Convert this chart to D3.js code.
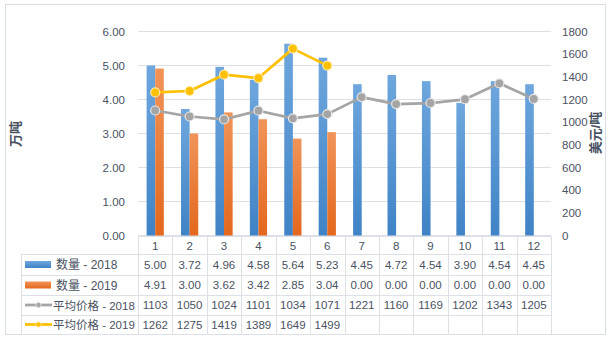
<!DOCTYPE html>
<html><head><meta charset="utf-8">
<script src="https://cdn.jsdelivr.net/npm/d3@7"></script>
<style>
body{margin:0;background:#fff;}
svg{display:block;font-family:"Liberation Sans","DejaVu Sans",sans-serif;}
.cjk{font-family:"Liberation Sans","Noto Sans CJK SC",sans-serif;}
</style></head>
<body><svg id="c" width="609" height="340"></svg>
<script>
const months = ["1","2","3","4","5","6","7","8","9","10","11","12"];
const qty2018 = [5.00,3.72,4.96,4.58,5.64,5.23,4.45,4.72,4.54,3.90,4.54,4.45];
const qty2019 = [4.91,3.00,3.62,3.42,2.85,3.04,0,0,0,0,0,0];
const price2018 = [1103,1050,1024,1101,1034,1071,1221,1160,1169,1202,1343,1205];
const price2019 = [1262,1275,1419,1389,1649,1499];
const leftTicks = [0,1,2,3,4,5,6];
const rightTicks = [0,200,400,600,800,1000,1200,1400,1600,1800];
const seriesNames = ["数量 - 2018","数量 - 2019","平均价格 - 2018","平均价格 - 2019"];

const svg = d3.select("#c");
const txt = "#4a5262", grid = "#dde1e7";
const L = 138, R = 551, T = 31.5, B = 235.5;

const defs = svg.append("defs");
function grad(id, top, bot){
  const g = defs.append("linearGradient").attr("id",id).attr("x1",0).attr("y1",0).attr("x2",0).attr("y2",1);
  g.append("stop").attr("offset","0%").attr("stop-color",top);
  g.append("stop").attr("offset","100%").attr("stop-color",bot);
}
grad("gb","#6fa7de","#3f83c6");
grad("go","#f19459","#e4671c");

// outer border
svg.append("rect").attr("x",5.5).attr("y",4.5).attr("width",600).attr("height",330)
  .attr("fill","none").attr("stroke","#d9dee5");

const x = d3.scaleBand().domain(months).range([L,R]).paddingInner(0).paddingOuter(0);
const bw = x.bandwidth()/4;
const yL = d3.scaleLinear().domain([0,6]).range([B,T]);
const yR = d3.scaleLinear().domain([0,1800]).range([B,T]);

// gridlines
svg.append("g").selectAll("line").data(leftTicks).join("line")
  .attr("x1",L).attr("x2",R).attr("y1",d=>yL(d)).attr("y2",d=>yL(d))
  .attr("stroke",grid).attr("stroke-width",1);

// axes
const ga = svg.append("g").attr("transform",`translate(${L-13},0)`)
  .call(d3.axisLeft(yL).tickValues(leftTicks).tickFormat(d3.format(".2f")).tickSize(0).tickPadding(0));
ga.select(".domain").remove();
ga.selectAll("text").attr("fill",txt).style("font-size","11.5px").style("font-family","Liberation Sans,sans-serif");
const gr = svg.append("g").attr("transform",`translate(${R+11},0)`)
  .call(d3.axisRight(yR).tickValues(rightTicks).tickFormat(d3.format("d")).tickSize(0).tickPadding(0));
gr.select(".domain").remove();
gr.selectAll("text").attr("fill",txt).style("font-size","11.5px").style("font-family","Liberation Sans,sans-serif");

// axis titles
svg.append("text").attr("class","cjk").attr("transform","translate(20,134) rotate(-90)")
  .attr("text-anchor","middle").attr("fill",txt).attr("font-size","13px").attr("font-weight","bold").text("万吨");
svg.append("text").attr("class","cjk").attr("transform","translate(600,133) rotate(-90)")
  .attr("text-anchor","middle").attr("fill",txt).attr("font-size","13px").attr("font-weight","bold").text("美元/吨");

// bars
const cx = i => x(months[i]) + x.bandwidth()/2;
svg.append("g").selectAll("rect").data(qty2018).join("rect")
  .attr("x",(d,i)=>cx(i)-bw).attr("width",bw).attr("y",d=>yL(d)).attr("height",d=>B-yL(d))
  .attr("fill","url(#gb)");
svg.append("g").selectAll("rect").data(qty2019).join("rect")
  .attr("x",(d,i)=>cx(i)).attr("width",bw).attr("y",d=>yL(d)).attr("height",d=>B-yL(d))
  .attr("fill","url(#go)");

// lines
function drawLine(vals, color, mk){
  const line = d3.line().x((d,i)=>cx(i)).y(d=>yR(d));
  svg.append("path").datum(vals).attr("d",line).attr("fill","none")
    .attr("stroke",color).attr("stroke-width",2.75).attr("stroke-linejoin","round");
  svg.append("g").selectAll("circle").data(vals).join("circle")
    .attr("cx",(d,i)=>cx(i)).attr("cy",d=>yR(d)).attr("r",4.5)
    .attr("fill",color).attr("stroke",mk).attr("stroke-width",1.2);
}
drawLine(price2018,"#a5a5a5","#e6e6e6");
drawLine(price2019,"#ffc000","#ffe9a8");

// data table
const rowY = [236,254,275,295,315,334];
const tL = 21;
const tg = svg.append("g").attr("stroke",grid).attr("stroke-width",1).attr("fill","none");
tg.append("line").attr("x1",L).attr("x2",R).attr("y1",rowY[0]+0.5).attr("y2",rowY[0]+0.5);
for(let k=1;k<rowY.length;k++){
  tg.append("line").attr("x1",tL).attr("x2",R).attr("y1",rowY[k]+0.5).attr("y2",rowY[k]+0.5);
}
tg.append("line").attr("x1",tL+0.5).attr("x2",tL+0.5).attr("y1",rowY[1]).attr("y2",rowY[5]);
months.forEach((m,i)=>{
  const xx = Math.round(x(m))+0.5;
  tg.append("line").attr("x1",xx).attr("x2",xx).attr("y1",rowY[0]).attr("y2",rowY[5]);
});
tg.append("line").attr("x1",R+0.5).attr("x2",R+0.5).attr("y1",rowY[0]).attr("y2",rowY[5]);

const tt = svg.append("g").attr("fill",txt).attr("font-size","11.5px").attr("text-anchor","middle");
const mid = k => (rowY[k]+rowY[k+1])/2 + 4;
months.forEach((m,i)=>{
  tt.append("text").attr("x",cx(i)).attr("y",mid(0)+1).text(m);
});
const rows = [qty2018.map(d=>d.toFixed(2)), qty2019.map(d=>d.toFixed(2)), price2018.map(String), price2019.map(String)];
rows.forEach((r,k)=>{
  r.forEach((v,i)=>{
    tt.append("text").attr("x",cx(i)).attr("y",mid(k+1)).text(v);
  });
});

// legend keys in table
const keyColors = ["url(#gb)","url(#go)","#a5a5a5","#ffc000"];
seriesNames.forEach((s,k)=>{
  const ym = (rowY[k+1]+rowY[k+2])/2;
  if(k<2){
    svg.append("rect").attr("x",25).attr("y",ym-3.5).attr("width",26).attr("height",7).attr("fill",keyColors[k]);
    svg.append("text").attr("class","cjk").attr("x",56).attr("y",ym+4.5).attr("fill",txt).attr("font-size","12px").text(s);
  } else {
    svg.append("line").attr("x1",25).attr("x2",52).attr("y1",ym).attr("y2",ym).attr("stroke",keyColors[k]).attr("stroke-width",2.75);
    svg.append("circle").attr("cx",38.5).attr("cy",ym).attr("r",2.6).attr("fill",keyColors[k]).attr("stroke",k==2?"#e6e6e6":"#ffe9a8").attr("stroke-width",0.8);
    svg.append("text").attr("class","cjk").attr("x",53).attr("y",ym+4.5).attr("fill",txt).attr("font-size","11.5px").text(s);
  }
});
</script></body></html>
